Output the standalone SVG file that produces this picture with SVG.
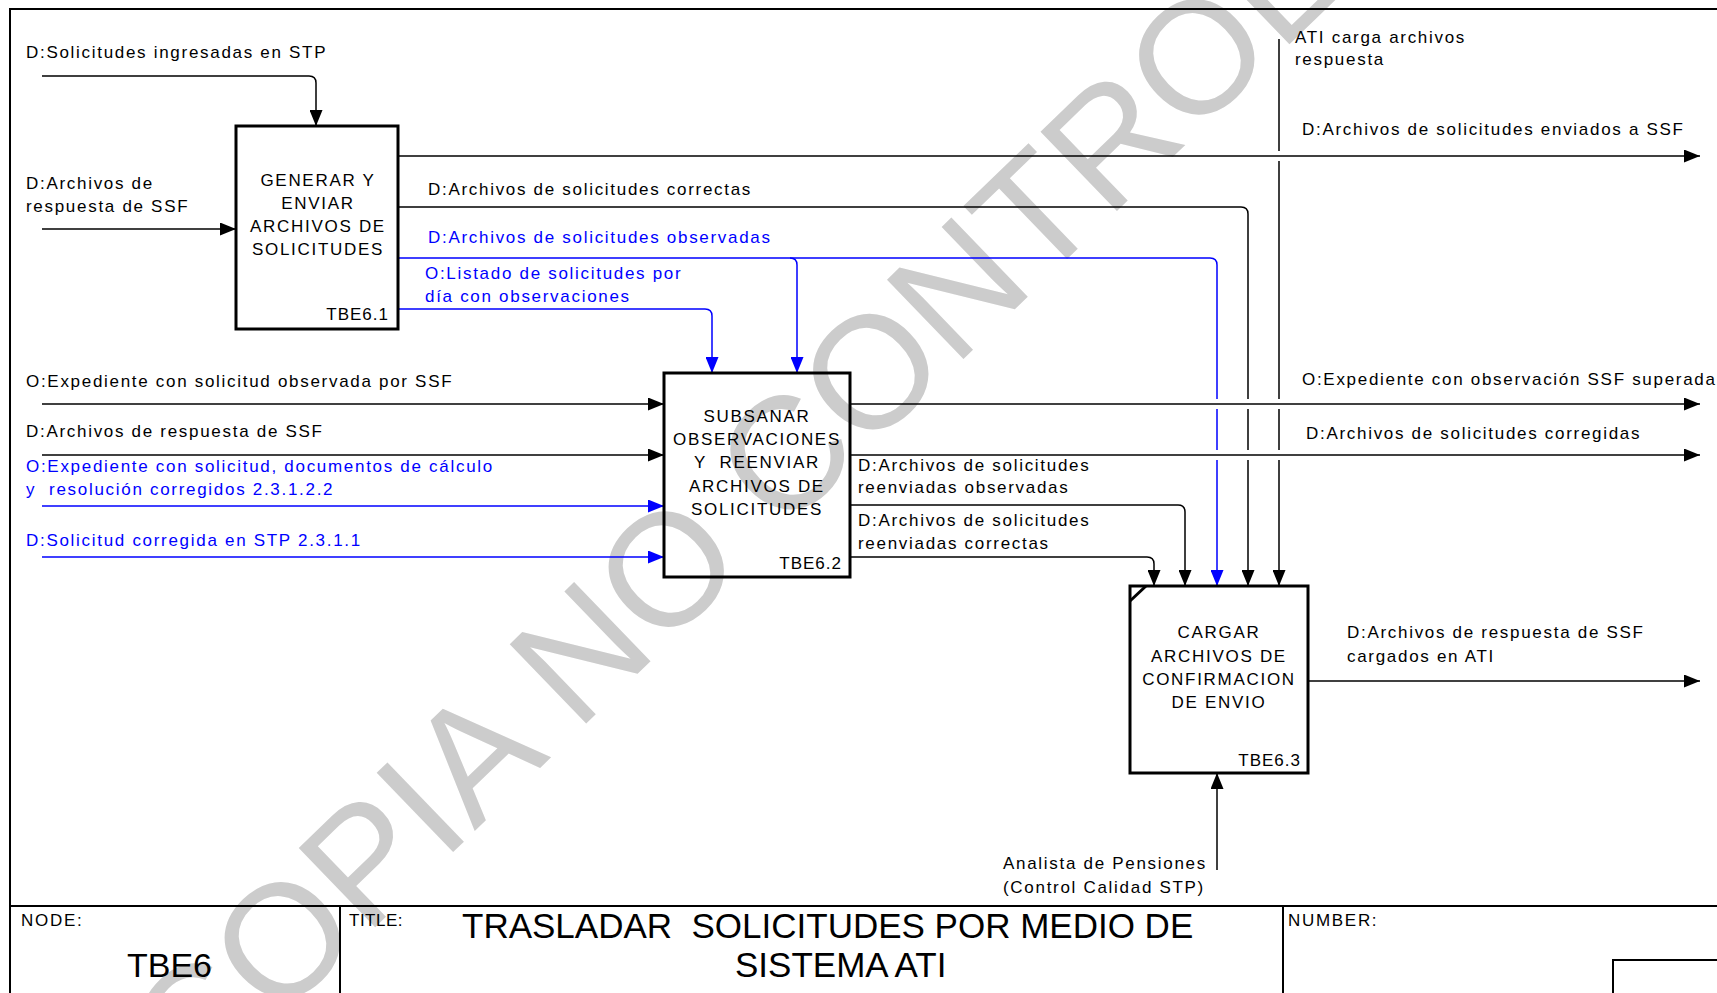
<svg xmlns="http://www.w3.org/2000/svg" width="1717" height="993" viewBox="0 0 1717 993">
<style>
  .t { font-family: "Liberation Sans", Arial, sans-serif; font-size: 17px; letter-spacing: 1.7px; fill: #000; }
  .b { fill: #0000ff; }
  .bx { font-family: "Liberation Sans", Arial, sans-serif; font-size: 17px; letter-spacing: 1.7px; fill: #000; text-anchor: middle; }
  .id { font-family: "Liberation Sans", Arial, sans-serif; font-size: 17px; letter-spacing: 1px; fill: #000; text-anchor: end; }
  .box { fill: none; stroke: #000; stroke-width: 3; }
  .ln { fill: none; stroke: #000; stroke-width: 1.5; }
  .lb { fill: none; stroke: #0000ff; stroke-width: 1.5; }
  .frm { fill: none; stroke: #000; stroke-width: 2; }
  .big { font-family: "Liberation Sans", Arial, sans-serif; font-size: 35px; fill: #000; }
</style>
<defs>
  <marker id="ak" markerUnits="userSpaceOnUse" markerWidth="16" markerHeight="13" refX="16" refY="6.5" orient="auto">
    <path d="M0,0 L16,6.5 L0,13 z" fill="#000"/>
  </marker>
  <marker id="ab" markerUnits="userSpaceOnUse" markerWidth="16" markerHeight="13" refX="16" refY="6.5" orient="auto">
    <path d="M0,0 L16,6.5 L0,13 z" fill="#0000ff"/>
  </marker>
</defs>
<rect width="1717" height="993" fill="#fff"/>
<text x="193" y="1103" transform="rotate(-44 193 1103)" font-family="Liberation Sans, Arial, sans-serif" font-size="160" fill="#cccccc">COPIA NO CONTROLADA</text>

<g id="frame">
  <rect class="frm" x="10" y="9" width="1800" height="1100"/>
  <path class="frm" d="M10,906 H1717 M340,906 V993 M1283,906 V993 M1613,993 V960 H1717"/>
  <text class="t" x="21" y="926">NODE:</text>
  <text class="t" x="349" y="926" style="letter-spacing:0.5px">TITLE:</text>
  <text class="t" x="1288" y="926">NUMBER:</text>
  <text class="big" x="127" y="977" style="font-size:34px">TBE6</text>
  <text class="big" x="462" y="938" style="white-space:pre">TRASLADAR  SOLICITUDES POR MEDIO DE</text>
  <text class="big" x="735" y="977">SISTEMA ATI</text>
</g>

<g id="connectors">
  <path class="ln" d="M42,76 H309 Q316,76 316,83 V126" marker-end="url(#ak)"/>
  <path class="ln" d="M42,229 H236" marker-end="url(#ak)"/>
  <path class="ln" d="M398,156 H1700" marker-end="url(#ak)"/>
  <path class="ln" d="M398,207 H1241 Q1248,207 1248,214 V399 M1248,409 V450 M1248,460 V586" marker-end="url(#ak)"/>
  <path class="lb" d="M398,258 H1210 Q1217,258 1217,265 V399 M1217,409 V450 M1217,460 V586" marker-end="url(#ab)"/>
  <path class="lb" d="M790,258 Q797,258 797,265 V373" marker-end="url(#ab)"/>
  <path class="lb" d="M398,309 H705 Q712,309 712,316 V373" marker-end="url(#ab)"/>
  <path class="ln" d="M1279,39 V151 M1279,161 V399 M1279,409 V450 M1279,460 V586" marker-end="url(#ak)"/>
  <path class="ln" d="M42,404 H664" marker-end="url(#ak)"/>
  <path class="ln" d="M42,455 H664" marker-end="url(#ak)"/>
  <path class="lb" d="M42,506 H664" marker-end="url(#ab)"/>
  <path class="lb" d="M42,557 H664" marker-end="url(#ab)"/>
  <path class="ln" d="M850,404 H1700" marker-end="url(#ak)"/>
  <path class="ln" d="M850,455 H1700" marker-end="url(#ak)"/>
  <path class="ln" d="M850,505 H1178 Q1185,505 1185,512 V586" marker-end="url(#ak)"/>
  <path class="ln" d="M850,557 H1147 Q1154,557 1154,564 V586" marker-end="url(#ak)"/>
  <path class="ln" d="M1308,681 H1700" marker-end="url(#ak)"/>
  <path class="ln" d="M1217,870 V773" marker-end="url(#ak)"/>

  <text class="t" x="26" y="58">D:Solicitudes ingresadas en STP</text>
  <text class="t" x="26" y="189">D:Archivos de</text>
  <text class="t" x="26" y="212">respuesta de SSF</text>
  <text class="t" x="428" y="195">D:Archivos de solicitudes correctas</text>
  <text class="t b" x="428" y="243">D:Archivos de solicitudes observadas</text>
  <text class="t b" x="425" y="279">O:Listado de solicitudes por</text>
  <text class="t b" x="425" y="302">día con observaciones</text>
  <text class="t" x="1295" y="43">ATI carga archivos</text>
  <text class="t" x="1295" y="65">respuesta</text>
  <text class="t" x="1302" y="135">D:Archivos de solicitudes enviados a SSF</text>
  <text class="t" x="26" y="387">O:Expediente con solicitud observada por SSF</text>
  <text class="t" x="26" y="437">D:Archivos de respuesta de SSF</text>
  <text class="t b" x="26" y="472">O:Expediente con solicitud, documentos de cálculo</text>
  <text class="t b" x="26" y="495" style="white-space:pre">y  resolución corregidos 2.3.1.2.2</text>
  <text class="t b" x="26" y="546">D:Solicitud corregida en STP 2.3.1.1</text>
  <text class="t" x="1302" y="385">O:Expediente con observación SSF superada</text>
  <text class="t" x="1306" y="439">D:Archivos de solicitudes corregidas</text>
  <text class="t" x="858" y="471">D:Archivos de solicitudes</text>
  <text class="t" x="858" y="493">reenviadas observadas</text>
  <text class="t" x="858" y="526">D:Archivos de solicitudes</text>
  <text class="t" x="858" y="549">reenviadas correctas</text>
  <text class="t" x="1347" y="638">D:Archivos de respuesta de SSF</text>
  <text class="t" x="1347" y="662">cargados en ATI</text>
  <text class="t" x="1003" y="869">Analista de Pensiones</text>
  <text class="t" x="1003" y="893">(Control Calidad STP)</text>
</g>

<g id="node-TBE6.1">
  <rect class="box" x="236" y="126" width="162" height="203"/>
  <text class="bx" x="318" y="186">GENERAR Y</text>
  <text class="bx" x="318" y="209">ENVIAR</text>
  <text class="bx" x="318" y="232">ARCHIVOS DE</text>
  <text class="bx" x="318" y="255">SOLICITUDES</text>
  <text class="id" x="389" y="320">TBE6.1</text>
</g>

<g id="node-TBE6.2">
  <rect class="box" x="664" y="373" width="186" height="204"/>
  <text class="bx" x="757" y="422">SUBSANAR</text>
  <text class="bx" x="757" y="445">OBSERVACIONES</text>
  <text class="bx" x="757" y="468" style="white-space:pre">Y  REENVIAR</text>
  <text class="bx" x="757" y="492">ARCHIVOS DE</text>
  <text class="bx" x="757" y="515">SOLICITUDES</text>
  <text class="id" x="842" y="569">TBE6.2</text>
</g>

<g id="node-TBE6.3">
  <rect class="box" x="1130" y="586" width="178" height="187"/>
  <path class="box" d="M1130,601 L1146,586"/>
  <text class="bx" x="1219" y="638">CARGAR</text>
  <text class="bx" x="1219" y="662">ARCHIVOS DE</text>
  <text class="bx" x="1219" y="685">CONFIRMACION</text>
  <text class="bx" x="1219" y="708">DE ENVIO</text>
  <text class="id" x="1301" y="766">TBE6.3</text>
</g>
</svg>
